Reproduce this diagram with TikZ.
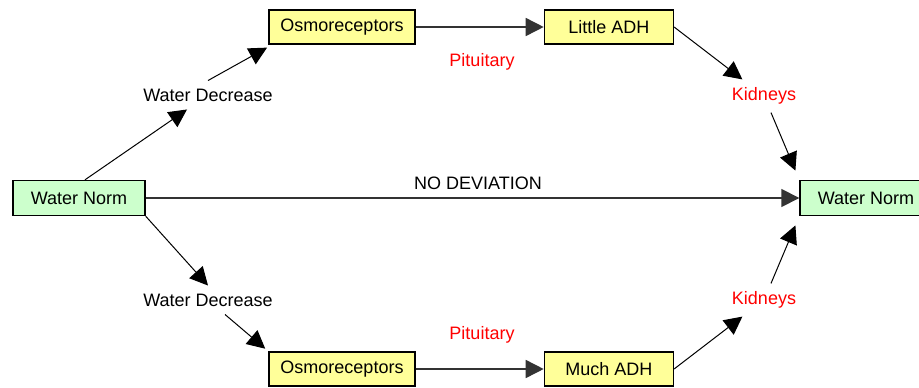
\documentclass[tikz,border=0pt]{standalone}
\usepackage{fontspec}
\setmainfont{Liberation Sans}
\usetikzlibrary{arrows.meta,positioning}

\definecolor{normgreen}{RGB}{204,255,204}
\definecolor{adhyellow}{RGB}{255,255,153}

\begin{document}
\begin{tikzpicture}[x=1pt, y=-1pt,
  font=\fontsize{18}{21}\selectfont,
  box/.style={draw, line width=1.4pt, minimum height=34pt, inner sep=2pt},
  normbox/.style={box, fill=normgreen, minimum width=132pt, minimum height=35pt},
  osmobox/.style={box, fill=adhyellow, minimum width=146pt},
  adhbox/.style={box, fill=adhyellow, minimum width=129pt},
  lbl/.style={inner xsep=2pt, inner ysep=8pt},
  redlbl/.style={lbl, text=red},
  arr/.style={-{Triangle[length=18pt, width=18pt]}, line width=1pt},
  flow/.style={arr, line width=1.6pt, draw=black!80}
]
  \useasboundingbox (0,0) rectangle (919,388);

  % boxes
  \node[normbox] (normL) at (79,198) {Water Norm};
  \node[normbox] (normR) at (866,198) {Water Norm};
  \node[osmobox] (osmoU) at (342,27) {Osmoreceptors};
  \node[adhbox, right=128pt of osmoU] (adhU) {Little ADH};
  \node[osmobox] (osmoD) at (342,369) {Osmoreceptors};
  \node[adhbox, right=128pt of osmoD] (adhD) {Much ADH};

  % labels
  \node[lbl] (wdecU) at (208,95) {Water Decrease};
  \node[lbl] (wdecD) at (208,300) {Water Decrease};
  \node[redlbl] (pitU) at (482,62) {Pituitary};
  \node[redlbl] (pitD) at (482,335) {Pituitary};
  \node[redlbl] (kidU) at (764,96) {Kidneys};
  \node[redlbl] (kidD) at (764,300) {Kidneys};
  \node[lbl] (nodev) at (478,183) {NO DEVIATION};

  % upper path
  \draw[arr] ([xshift=6pt]normL.north) -- (wdecU);
  \draw[arr, shorten >=6pt] (wdecU.north) -- ([xshift=4pt]osmoU.south west);
  \draw[flow] (osmoU) -- (adhU);
  \draw[arr] (adhU.east) -- (kidU);
  \draw[arr, shorten >=10pt] (kidU) -- (normR.north west);

  % middle
  \draw[flow] (normL) -- (normR);

  % lower path
  \draw[arr] (normL.south east) -- (wdecD.north);
  \draw[arr, shorten >=4pt] (wdecD) -- (osmoD.north west);
  \draw[flow] (osmoD) -- (adhD);
  \draw[arr] (adhD.east) -- (kidD);
  \draw[arr, shorten >=10pt] (kidD) -- (normR.south west);
\end{tikzpicture}
\end{document}
